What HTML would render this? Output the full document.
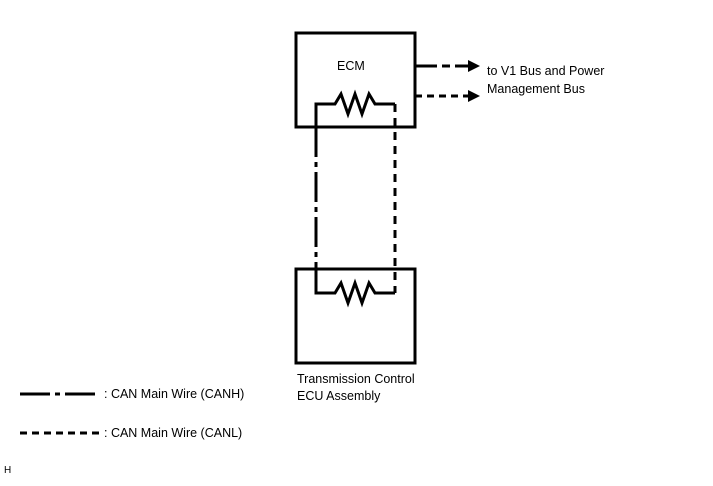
<!DOCTYPE html>
<html><head><style>body{margin:0;background:#fff}svg text{font-family:"Liberation Sans",Arial,sans-serif;font-size:12.5px;fill:#000}</style></head><body>
<svg width="713" height="481" xmlns="http://www.w3.org/2000/svg">
<g fill="none" stroke="#000" stroke-width="3">
<rect x="296" y="33" width="119" height="94"/>
<rect x="296" y="269" width="119" height="94"/>
<polyline points="316,127 316,104 335,104 341,94 348,114 355,94 362,114 369,94 375,104 395,104" stroke-linejoin="miter"/>
<polyline points="316,269 316,293 335,293 341,283 348,303 355,283 362,303 369,283 375,293 395,293"/>
<line x1="316" y1="127" x2="316" y2="269" stroke-dasharray="30,5,5,5"/>
<line x1="395" y1="104" x2="395" y2="293" stroke-dasharray="8,6"/>
<line x1="415" y1="66" x2="470" y2="66" stroke-dasharray="22,5,8,5"/>
<line x1="415" y1="96" x2="470" y2="96" stroke-dasharray="7,5"/>
<line x1="20" y1="394" x2="100" y2="394" stroke-dasharray="30,5,5,5"/>
<line x1="20" y1="433" x2="100" y2="433" stroke-dasharray="7,5"/>
</g>
<polygon points="468,60 480,66 468,72"/>
<polygon points="468,90 480,96 468,102"/>
<text x="337" y="70">ECM</text>
<text x="487" y="75">to V1 Bus and Power</text>
<text x="487" y="93">Management Bus</text>
<text x="297" y="383">Transmission Control</text>
<text x="297" y="400">ECU Assembly</text>
<text x="104" y="398">: CAN Main Wire (CANH)</text>
<text x="104" y="437">: CAN Main Wire (CANL)</text>
<text x="4" y="473" style="font-size:10px">H</text>
</svg>
</body></html>
